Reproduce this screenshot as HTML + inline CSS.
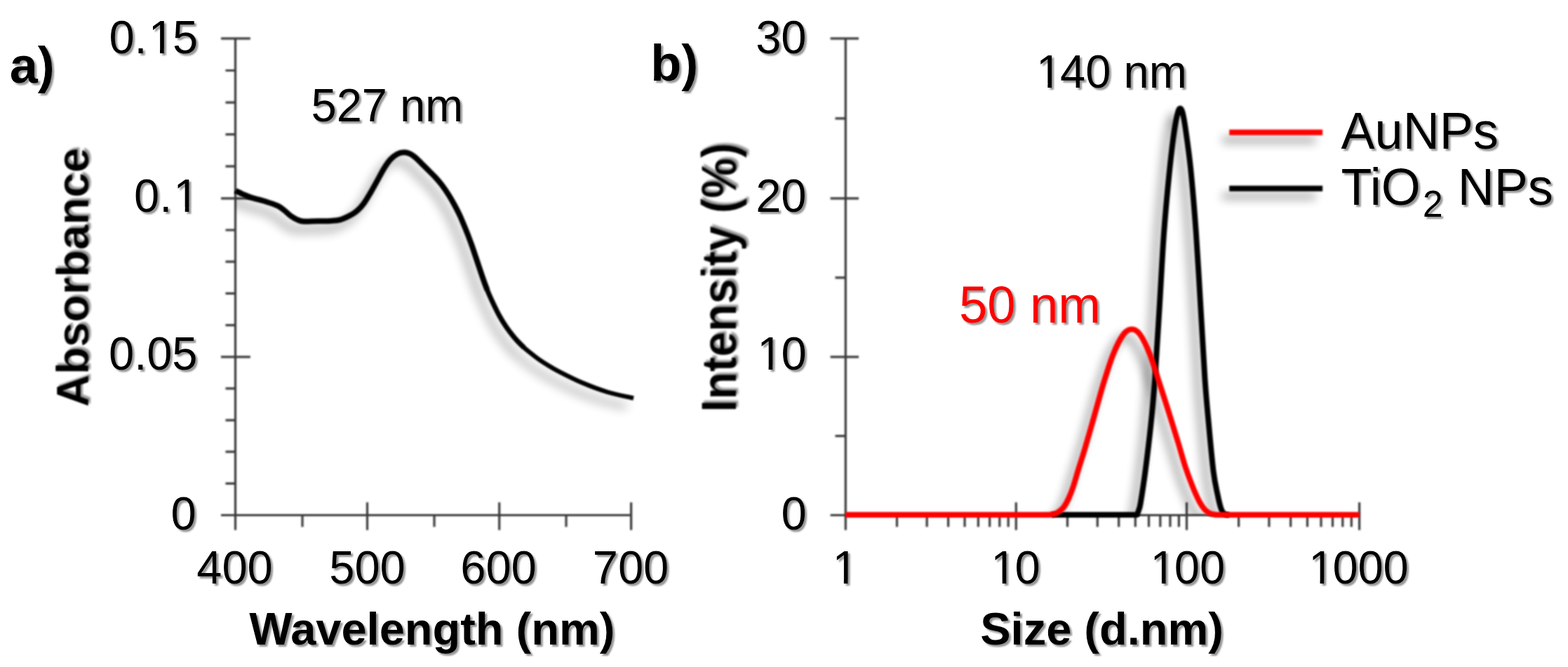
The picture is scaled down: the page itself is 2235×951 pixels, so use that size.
<!DOCTYPE html>
<html lang="en">
<head>
<meta charset="utf-8">
<title>UV-Vis absorbance and DLS size distribution of AuNPs and TiO2 NPs</title>
<style>
html,body{margin:0;padding:0;background:#fff;}
body{width:2235px;height:951px;overflow:hidden;}
svg{display:block;}
svg text{font-family:"Liberation Sans",Arial,Helvetica,sans-serif;}
</style>
</head>
<body>
<svg width="2235" height="951" viewBox="0 0 2235 951">
<defs>
<filter id="soft" x="-5%" y="-5%" width="110%" height="110%" filterUnits="objectBoundingBox">
<feGaussianBlur stdDeviation="0.8"/>
</filter>
<filter id="tsh" x="0" y="0" width="2235" height="951" filterUnits="userSpaceOnUse">
<feGaussianBlur in="SourceAlpha" stdDeviation="1.3" result="b"/>
<feOffset in="b" dx="2.7" dy="2.7" result="o"/>
<feComponentTransfer in="o" result="s"><feFuncA type="linear" slope="0.42"/></feComponentTransfer>
<feGaussianBlur in="SourceGraphic" stdDeviation="0.7" result="g0"/>
<feComponentTransfer in="g0" result="g"><feFuncA type="gamma" amplitude="1" exponent="1.25" offset="0"/></feComponentTransfer>
<feMerge><feMergeNode in="s"/><feMergeNode in="g"/></feMerge>
</filter>
<filter id="tshr" x="0" y="0" width="2235" height="951" filterUnits="userSpaceOnUse">
<feGaussianBlur in="SourceAlpha" stdDeviation="1.4" result="b"/>
<feOffset in="b" dx="2.7" dy="-2.7" result="o"/>
<feComponentTransfer in="o" result="s"><feFuncA type="linear" slope="0.42"/></feComponentTransfer>
<feGaussianBlur in="SourceGraphic" stdDeviation="0.9" result="g0"/>
<feComponentTransfer in="g0" result="g"><feFuncA type="gamma" amplitude="1" exponent="1.3" offset="0"/></feComponentTransfer>
<feMerge><feMergeNode in="s"/><feMergeNode in="g"/></feMerge>
</filter>
<filter id="csh" x="0" y="0" width="2235" height="951" filterUnits="userSpaceOnUse">
<feGaussianBlur in="SourceAlpha" stdDeviation="7" result="b"/>
<feOffset in="b" dx="-10" dy="11" result="o"/>
<feComponentTransfer in="o"><feFuncA type="linear" slope="0.40"/></feComponentTransfer>
</filter>
<filter id="csha" x="0" y="0" width="2235" height="951" filterUnits="userSpaceOnUse">
<feGaussianBlur in="SourceAlpha" stdDeviation="7.5" result="b"/>
<feOffset in="b" dx="-10.5" dy="11.5" result="o"/>
<feComponentTransfer in="o"><feFuncA type="linear" slope="0.38"/></feComponentTransfer>
</filter>
<filter id="lnf" x="0" y="0" width="2235" height="951" filterUnits="userSpaceOnUse">
<feGaussianBlur stdDeviation="0.8"/>
</filter>
<filter id="axf" x="0" y="0" width="2235" height="951" filterUnits="userSpaceOnUse">
<feGaussianBlur stdDeviation="1.0"/>
</filter>
<clipPath id="clipA"><rect x="335.5" y="0" width="700" height="734.5"/></clipPath>
<clipPath id="clipB"><rect x="1205.2" y="0" width="760" height="734.5"/></clipPath>
<clipPath id="k1"><path clip-rule="evenodd" d="M135.5,4.1H302.0V101.6H135.5ZM215.09,69.96H228.01V78.60H215.09ZM233.72,69.96H245.98V78.60H233.72Z"/></clipPath>
<clipPath id="k2"><path clip-rule="evenodd" d="M171.1,230.1H301.5V327.6H171.1ZM250.74,295.96H263.66V304.60H250.74ZM269.37,295.96H281.63V304.60H269.37Z"/></clipPath>
<clipPath id="k3"><path clip-rule="evenodd" d="M1057.2,455.5H1169.5V553.0H1057.2ZM1082.59,521.36H1095.51V530.00H1082.59ZM1101.22,521.36H1113.48V530.00H1101.22Z"/></clipPath>
<clipPath id="k4"><path clip-rule="evenodd" d="M1164.4,761.0H1240.6V858.5H1164.4ZM1189.82,826.86H1202.74V835.50H1189.82ZM1208.45,826.86H1220.70V835.50H1208.45Z"/></clipPath>
<clipPath id="k5"><path clip-rule="evenodd" d="M1390.4,761.0H1502.6V858.5H1390.4ZM1415.74,826.86H1428.66V835.50H1415.74ZM1434.37,826.86H1446.63V835.50H1434.37Z"/></clipPath>
<clipPath id="k6"><path clip-rule="evenodd" d="M1617.6,761.0H1766.0V858.5H1617.6ZM1642.97,826.86H1655.89V835.50H1642.97ZM1661.60,826.86H1673.85V835.50H1661.60Z"/></clipPath>
<clipPath id="k7"><path clip-rule="evenodd" d="M1843.2,761.0H2027.8V858.5H1843.2ZM1868.59,826.86H1881.51V835.50H1868.59ZM1887.22,826.86H1899.48V835.50H1887.22Z"/></clipPath>
<clipPath id="k8"><path clip-rule="evenodd" d="M1455.0,53.3H1711.8V150.8H1455.0ZM1480.39,119.16H1493.31V127.80H1480.39ZM1499.02,119.16H1511.28V127.80H1499.02Z"/></clipPath>
<path id="pa" d="M335.5,271.8 C337.2,272.6 342.3,275.2 346.0,276.8 C349.7,278.4 352.8,279.9 357.9,281.6 C363.0,283.3 370.5,284.8 376.8,286.8 C383.1,288.8 391.0,291.2 395.7,293.4 C400.4,295.6 402.0,297.5 405.2,299.9 C408.4,302.3 411.5,305.8 414.6,308.0 C417.8,310.2 420.9,312.1 424.1,313.4 C427.3,314.7 428.9,315.5 433.6,315.8 C438.3,316.1 446.2,315.3 452.5,315.2 C458.8,315.1 466.0,315.3 471.4,315.0 C476.8,314.7 480.0,314.8 484.7,313.4 C489.4,312.0 495.7,309.0 499.8,306.8 C503.9,304.6 506.1,303.0 509.3,300.2 C512.5,297.4 515.6,294.1 518.7,289.8 C521.9,285.5 525.0,280.0 528.2,274.6 C531.4,269.2 534.6,263.3 537.7,257.6 C540.9,251.9 544.0,245.7 547.1,240.6 C550.2,235.5 553.4,230.8 556.6,227.3 C559.8,223.8 562.9,221.4 566.1,219.7 C569.3,218.0 572.9,217.3 576.0,217.2 C579.1,217.1 581.9,218.1 584.6,219.3 C587.3,220.5 589.4,222.2 592.2,224.6 C595.0,227.0 598.5,230.7 601.6,233.8 C604.8,236.9 608.0,240.0 611.1,243.2 C614.2,246.4 617.4,249.4 620.5,252.8 C623.6,256.2 626.8,259.8 629.9,263.9 C633.0,268.0 636.0,272.5 639.0,277.2 C642.0,281.9 645.0,287.2 647.8,292.2 C650.5,297.2 652.9,301.7 655.5,307.4 C658.1,313.1 660.8,319.7 663.5,326.3 C666.2,332.9 669.0,340.2 671.5,347.1 C674.0,354.0 676.0,360.2 678.6,367.9 C681.2,375.5 684.4,385.4 687.0,393.0 C689.6,400.6 691.8,406.8 694.5,413.5 C697.2,420.2 700.5,427.4 703.4,433.5 C706.3,439.6 708.9,445.0 711.8,450.3 C714.7,455.6 718.0,460.8 721.0,465.2 C724.0,469.6 726.7,473.2 729.5,476.8 C732.3,480.4 735.1,483.7 738.0,486.8 C740.9,489.9 743.9,492.8 747.0,495.6 C750.1,498.4 753.3,501.0 756.8,503.8 C760.3,506.6 764.0,509.5 768.0,512.3 C772.0,515.1 776.5,518.0 781.0,520.7 C785.5,523.5 786.8,524.6 795.0,528.8 C803.2,533.0 818.3,540.8 830.0,545.8 C841.7,550.8 852.8,555.0 865.0,558.7 C877.2,562.4 896.7,566.3 903.0,567.8"/>
<path id="pa1" d="M335.5,271.8C337.2,272.6 342.3,275.2 346.0,276.8C349.7,278.4 352.8,279.9 357.9,281.6C363.0,283.3 370.5,284.8 376.8,286.8C383.1,288.8 391.0,291.2 395.7,293.4C400.4,295.6 402.0,297.5 405.2,299.9C408.4,302.3 411.5,305.8 414.6,308.0C417.8,310.2 420.9,312.1 424.1,313.4C427.3,314.7 428.9,315.5 433.6,315.8C438.3,316.1 446.2,315.3 452.5,315.2C458.8,315.1 466.0,315.3 471.4,315.0C476.8,314.7 480.0,314.8 484.7,313.4C489.4,312.0 495.7,309.0 499.8,306.8C503.9,304.6 506.1,303.0 509.3,300.2C512.5,297.4 515.6,294.1 518.7,289.8C521.9,285.5 525.0,280.0 528.2,274.6C531.4,269.2 534.6,263.3 537.7,257.6C540.9,251.9 544.0,245.7 547.1,240.6C550.2,235.5 553.4,230.8 556.6,227.3C559.8,223.8 562.9,221.4 566.1,219.7C569.3,218.0 572.9,217.3 576.0,217.2C579.1,217.1 581.9,218.1 584.6,219.3C587.3,220.5 589.4,222.2 592.2,224.6C595.0,227.0 598.5,230.7 601.6,233.8C604.8,236.9 608.0,240.0 611.1,243.2C614.2,246.4 617.4,249.4 620.5,252.8C623.6,256.2 626.8,259.8 629.9,263.9C633.0,268.0 636.0,272.5 639.0,277.2C642.0,281.9 645.0,287.2 647.8,292.2C650.5,297.2 652.9,301.7 655.5,307.4C658.1,313.1 660.8,319.7 663.5,326.3C666.2,332.9 669.0,340.2 671.5,347.1C674.0,354.0 676.0,360.2 678.6,367.9C681.2,375.5 684.4,385.4 687.0,393.0C689.6,400.6 691.8,406.8 694.5,413.5"/>
<path id="pa2" d="M671.5,347.1C674.0,354.0 676.0,360.2 678.6,367.9C681.2,375.5 684.4,385.4 687.0,393.0C689.6,400.6 691.8,406.8 694.5,413.5C697.2,420.2 700.5,427.4 703.4,433.5C706.3,439.6 708.9,445.0 711.8,450.3C714.7,455.6 718.0,460.8 721.0,465.2C724.0,469.6 726.7,473.2 729.5,476.8C732.3,480.4 735.1,483.7 738.0,486.8C740.9,489.9 743.9,492.8 747.0,495.6"/>
<path id="pa3" d="M738.0,486.8C740.9,489.9 743.9,492.8 747.0,495.6C750.1,498.4 753.3,501.0 756.8,503.8C760.3,506.6 764.0,509.5 768.0,512.3C772.0,515.1 776.5,518.0 781.0,520.7C785.5,523.5 786.8,524.6 795.0,528.8C803.2,533.0 818.3,540.8 830.0,545.8C841.7,550.8 852.8,555.0 865.0,558.7C877.2,562.4 896.7,566.3 903.0,567.8"/>
<path id="pk" d="M1499.0,734.0 L1620.8,734.0 C1621.2,732.8 1622.4,729.9 1623.2,727.0 C1624.0,724.1 1624.3,725.7 1625.8,716.6 C1627.3,707.5 1630.0,690.9 1632.4,672.5 C1634.8,654.1 1638.0,628.3 1640.3,606.2 C1642.6,584.1 1644.2,567.6 1646.2,540.0 C1648.2,512.4 1650.3,475.4 1652.5,440.4 C1654.7,405.4 1656.7,363.3 1659.2,330.0 C1661.7,296.7 1664.8,264.5 1667.3,240.4 C1669.8,216.3 1672.0,198.6 1674.0,185.2 C1676.0,171.8 1677.6,165.1 1679.0,160.0 C1680.4,154.9 1681.1,154.5 1682.2,154.5 C1683.3,154.5 1684.2,154.9 1685.5,160.0 C1686.8,165.1 1688.1,171.8 1690.0,185.2 C1691.9,198.6 1694.6,216.3 1697.1,240.4 C1699.5,264.5 1702.3,296.7 1704.7,330.0 C1707.1,363.3 1709.4,405.4 1711.5,440.4 C1713.6,475.4 1715.5,512.4 1717.4,540.0 C1719.3,567.6 1721.0,584.1 1723.0,606.2 C1725.0,628.3 1727.5,655.9 1729.6,672.5 C1731.7,689.1 1733.8,696.9 1735.6,705.6 C1737.4,714.3 1738.8,720.2 1740.2,724.5 C1741.6,728.8 1742.4,729.9 1743.8,731.5 C1745.2,733.1 1747.7,733.6 1748.5,734.0 L1752.0,734.0"/>
<path id="pr" d="M1205.2,734.0 L1496.0,734.0 C1497.2,733.8 1501.2,733.4 1503.5,732.6 C1505.8,731.8 1507.3,731.0 1509.5,729.3 C1511.7,727.6 1514.3,725.8 1516.6,722.6 C1518.9,719.4 1521.3,714.9 1523.5,710.0 C1525.7,705.1 1527.7,700.0 1530.0,693.0 C1532.3,686.0 1534.9,676.5 1537.5,668.0 C1540.1,659.5 1541.9,654.7 1545.7,641.9 C1549.5,629.1 1555.6,607.7 1560.2,591.4 C1564.8,575.1 1569.1,558.9 1573.6,544.3 C1578.1,529.7 1582.6,515.1 1587.2,503.9 C1591.8,492.7 1596.9,482.7 1601.2,477.0 C1605.5,471.3 1609.3,469.6 1613.3,469.6 C1617.3,469.6 1620.8,471.3 1625.0,477.0 C1629.2,482.7 1634.0,492.7 1638.5,503.9 C1643.0,515.1 1647.4,530.3 1652.0,544.3 C1656.6,558.3 1661.4,573.3 1666.0,588.0 C1670.6,602.7 1675.9,619.7 1679.8,632.7 C1683.7,645.7 1686.2,655.5 1689.6,665.8 C1693.0,676.1 1696.8,686.1 1700.2,694.5 C1703.6,702.9 1707.1,710.6 1710.0,716.0 C1712.9,721.4 1715.2,724.3 1717.8,727.0 C1720.4,729.7 1722.8,731.2 1725.5,732.4 C1728.2,733.6 1732.6,733.7 1734.0,734.0 L1937.6,734.0"/>
<path id="lg1" d="M1752.2,188.8H1885.2"/>
<path id="lg2" d="M1752.2,268.8H1885.2"/>
</defs>
<rect x="0" y="0" width="2235" height="951" fill="#ffffff"/>
<g id="axes" filter="url(#axf)"><path d="M335.5,53.2L335.5,755.8M315.0,734.5L901.1,734.5M315.0,508.8L356.8,508.8M321.5,689.4L335.5,689.4M321.5,644.2L335.5,644.2M321.5,599.1L335.5,599.1M321.5,553.9L335.5,553.9M315.0,282.8L356.8,282.8M321.5,463.6L335.5,463.6M321.5,418.4L335.5,418.4M321.5,373.2L335.5,373.2M321.5,328.0L335.5,328.0M315.0,54.9L356.8,54.9M321.5,237.2L335.5,237.2M321.5,191.6L335.5,191.6M321.5,146.1L335.5,146.1M321.5,100.5L335.5,100.5M523.5,716.2L523.5,755.8M711.7,716.2L711.7,755.8M899.6,716.2L899.6,755.8M431.0,734.5L431.0,751.3M619.0,734.5L619.0,751.3M807.0,734.5L807.0,751.3M1205.3,53.2L1205.3,755.8M1183.6,734.5L1939.0,734.5M1183.6,508.8L1224.0,508.8M1190.5,621.6L1205.3,621.6M1183.6,282.8L1224.0,282.8M1190.5,395.8L1205.3,395.8M1183.6,54.9L1224.0,54.9M1190.5,168.8L1205.3,168.8M1448.3,716.2L1448.3,755.8M1691.5,716.2L1691.5,755.8M1937.6,716.2L1937.6,755.8M1278.5,734.5L1278.5,751.3M1321.2,734.5L1321.2,751.3M1351.6,734.5L1351.6,751.3M1375.1,734.5L1375.1,751.3M1394.4,734.5L1394.4,751.3M1410.7,734.5L1410.7,751.3M1424.8,734.5L1424.8,751.3M1437.2,734.5L1437.2,751.3M1521.5,734.5L1521.5,751.3M1564.3,734.5L1564.3,751.3M1594.7,734.5L1594.7,751.3M1618.3,734.5L1618.3,751.3M1637.5,734.5L1637.5,751.3M1653.8,734.5L1653.8,751.3M1667.9,734.5L1667.9,751.3M1680.4,734.5L1680.4,751.3M1765.6,734.5L1765.6,751.3M1808.9,734.5L1808.9,751.3M1839.7,734.5L1839.7,751.3M1863.5,734.5L1863.5,751.3M1883.0,734.5L1883.0,751.3M1899.5,734.5L1899.5,751.3M1913.8,734.5L1913.8,751.3M1926.3,734.5L1926.3,751.3" fill="none" stroke="#3a3a3a" stroke-width="3.2"/></g>
<g fill="none" stroke-width="8" stroke-linejoin="round">
<g clip-path="url(#clipA)"><g filter="url(#csha)" stroke="#000"><use href="#pa1"/><use href="#pa2" stroke-width="7.2"/><use href="#pa3" stroke-width="6.4"/></g></g>
<g filter="url(#lnf)" stroke="#000"><use href="#pa1"/><use href="#pa2" stroke-width="7.2"/><use href="#pa3" stroke-width="6.4"/></g>
<g clip-path="url(#clipB)"><use href="#pk" stroke="#000" filter="url(#csh)"/></g>
<use href="#pk" stroke="#000" filter="url(#lnf)"/>
<g clip-path="url(#clipB)"><use href="#pr" stroke="#000" filter="url(#csh)"/></g>
<use href="#pr" stroke="#ff0000" filter="url(#lnf)"/>
<use href="#lg1" stroke="#000" filter="url(#csh)"/>
<use href="#lg1" stroke="#ff0000" filter="url(#lnf)"/>
<use href="#lg2" stroke="#000" filter="url(#csh)"/>
<use href="#lg2" stroke="#000" filter="url(#lnf)"/>
</g>
<g id="labels" filter="url(#tsh)">
<text x="155.5 191.6 211.7 245.9" y="75.6" font-size="65" fill="#000" transform="translate(0,75.6) scale(1,1.02) translate(0,-75.6)" clip-path="url(#k1)">0.15</text>
<text x="191.1 227.3 247.3" y="301.6" font-size="65" fill="#000" transform="translate(0,301.6) scale(1,1.02) translate(0,-301.6)" clip-path="url(#k2)">0.1</text>
<text x="155.0" y="527.0" font-size="65" fill="#000" transform="translate(0,527.0) scale(1,1.02) translate(0,-527.0)">0.05</text>
<text x="243.6" y="755.0" font-size="65" fill="#000" transform="translate(0,755.0) scale(1,1.02) translate(0,-755.0)">0</text>
<text x="280.3" y="832.5" font-size="65" fill="#000" transform="translate(0,832.5) scale(1,1.02) translate(0,-832.5)">400</text>
<text x="469.3" y="832.5" font-size="65" fill="#000" transform="translate(0,832.5) scale(1,1.02) translate(0,-832.5)">500</text>
<text x="656.3" y="832.5" font-size="65" fill="#000" transform="translate(0,832.5) scale(1,1.02) translate(0,-832.5)">600</text>
<text x="844.8" y="832.5" font-size="65" fill="#000" transform="translate(0,832.5) scale(1,1.02) translate(0,-832.5)">700</text>
<text x="615.8" y="918.6" font-size="65" text-anchor="middle" font-weight="bold" fill="#000">Wavelength (nm)</text>
<text x="13.8" y="118.3" font-size="72" text-anchor="start" font-weight="bold" fill="#000">a)</text>
<text x="443.5" y="173.2" font-size="65" fill="#000" transform="translate(0,173.2) scale(1,1.02) translate(0,-173.2)">527 nm</text>
<text x="1077.2" y="75.6" font-size="65" fill="#000" transform="translate(0,75.6) scale(1,1.02) translate(0,-75.6)">30</text>
<text x="1077.2" y="301.6" font-size="65" fill="#000" transform="translate(0,301.6) scale(1,1.02) translate(0,-301.6)">20</text>
<text x="1079.2 1113.4" y="527.0" font-size="65" fill="#000" transform="translate(0,527.0) scale(1,1.02) translate(0,-527.0)" clip-path="url(#k3)">10</text>
<text x="1113.4" y="755.0" font-size="65" fill="#000" transform="translate(0,755.0) scale(1,1.02) translate(0,-755.0)">0</text>
<text x="1186.4" y="832.5" font-size="65" fill="#000" transform="translate(0,832.5) scale(1,1.02) translate(0,-832.5)" clip-path="url(#k4)">1</text>
<text x="1412.3 1446.5" y="832.5" font-size="65" fill="#000" transform="translate(0,832.5) scale(1,1.02) translate(0,-832.5)" clip-path="url(#k5)">10</text>
<text x="1639.5 1673.7 1709.9" y="832.5" font-size="65" fill="#000" transform="translate(0,832.5) scale(1,1.02) translate(0,-832.5)" clip-path="url(#k6)">100</text>
<text x="1865.2 1899.4 1935.5 1971.6" y="832.5" font-size="65" fill="#000" transform="translate(0,832.5) scale(1,1.02) translate(0,-832.5)" clip-path="url(#k7)">1000</text>
<text x="1570.6" y="918.6" font-size="65" text-anchor="middle" font-weight="bold" fill="#000">Size (d.nm)</text>
<text x="927.2" y="115.3" font-size="72" text-anchor="start" font-weight="bold" fill="#000">b)</text>
<text x="1477.0 1511.1 1547.3 1583.4 1601.5 1637.7" y="124.8" font-size="65" fill="#000" transform="translate(0,124.8) scale(1,1.02) translate(0,-124.8)" clip-path="url(#k8)">140 nm</text>
<text x="1367.0" y="460.3" font-size="72.6" fill="#ff0000" transform="translate(0,460.3) scale(1,1.02) translate(0,-460.3)">50 nm</text>
<text x="0" y="0" transform="translate(1911.6,211.6) scale(1,1.022)" font-size="72" text-anchor="start" fill="#000">AuNPs</text>
<text x="0" y="0" transform="translate(1911.5,292.2) scale(1,1.022)" font-size="72" text-anchor="start" fill="#000">TiO<tspan font-size="52" dx="3" dy="16">2</tspan><tspan dx="1" dy="-16"> NPs</tspan></text>
</g>
<g id="axis-titles" filter="url(#tshr)">
<text x="0" y="0" transform="translate(126.1,395.4) rotate(-90) scale(0.984,0.985)" font-size="65" text-anchor="middle" font-weight="bold" fill="#000">Absorbance</text>
<text x="0" y="0" transform="translate(1049.8,395.7) rotate(-90) scale(0.994,1.09)" font-size="65" text-anchor="middle" font-weight="bold" fill="#000">Intensity (%)</text>
</g>
</svg>
</body>
</html>
